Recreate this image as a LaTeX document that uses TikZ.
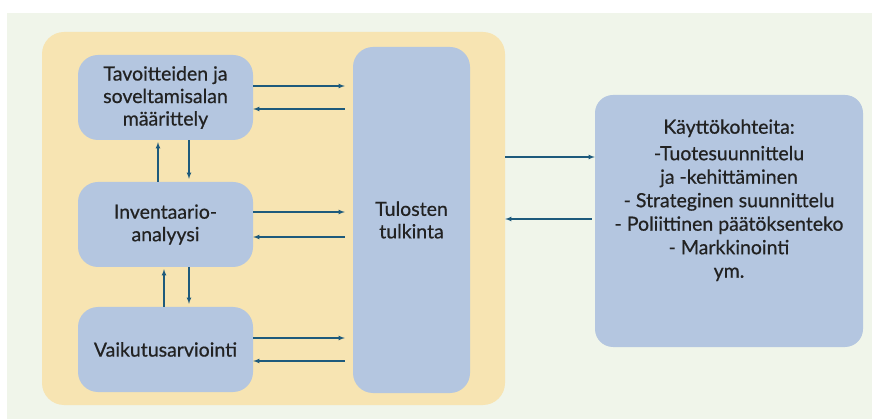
\documentclass[tikz,border=0pt]{standalone}
\usepackage{fontspec}
\setmainfont{Lato}[FakeBold=0.6]
\usepackage{tikz}

\definecolor{taust}{HTML}{F0F5EA}
\definecolor{kehys}{HTML}{F7E4B2}
\definecolor{laatikko}{HTML}{B4C6E0}
\definecolor{nuoli}{HTML}{1E5A7C}
\definecolor{teksti}{HTML}{222222}

\begin{document}
\begin{tikzpicture}[x=1pt,y=-1pt,
  vaihe/.style={rectangle,rounded corners=20pt,fill=laatikko,text=teksti,
    minimum width=175pt,minimum height=85pt,align=center,
    font=\fontsize{19.5}{22.5}\selectfont},
  link/.style={draw=nuoli,line width=1.1pt,-latex}]
\useasboundingbox (0,0) rectangle (872,419);
\fill[taust] (7,13) rectangle (872,419);

\node[rectangle,rounded corners=22pt,fill=kehys,minimum width=463pt,minimum height=373pt] (panel) at (273.5,218.5) {};

\node[vaihe] (tavoite) at (165.5,97.5)  {Tavoitteiden ja\\soveltamisalan\\määrittely};
\node[vaihe] (inventaario) at (165.5,224.5) {Inventaario-\\analyysi};
\node[vaihe] (vaikutus) at (165.5,349.5) {Vaikutusarviointi};
\node[vaihe,minimum width=117pt,minimum height=346pt] (tulkinta) at (411.5,220) {Tulosten\\tulkinta};

\node[vaihe,rounded corners=18pt,minimum width=268pt,minimum height=252pt] (kaytto) at (729,221) {};
\node[anchor=north,align=center,text=teksti,font=\fontsize{19.5}{23.5}\selectfont] (kohteet) at ([yshift=-21pt]kaytto.north)
  {Käyttökohteita:\\[3pt]-Tuotesuunnittelu\\ja -kehittäminen\\- Strateginen suunnittelu\\- Poliittinen päätöksenteko\\- Markkinointi\\ym.};

% vaiheet <-> tulkinta
\foreach \v/\d in {tavoite/11.5,inventaario/12.5,vaikutus/11.5} {
  \draw[link,shorten >=8pt] ([yshift=\d pt]\v.east) -- ([yshift=\d pt]\v.east -| tulkinta.west);
  \draw[link,shorten <=8pt] ([yshift=-\d pt]\v.east -| tulkinta.west) -- ([yshift=-\d pt]\v.east);
}

% vaiheiden valilla
\draw[link,shorten >=2pt] ([xshift=-7.5pt]inventaario.north) -- ([xshift=-7.5pt]tavoite.south);
\draw[link,shorten >=3pt] ([xshift=23.5pt]tavoite.south) -- ([xshift=23.5pt]inventaario.north);
\draw[link,shorten >=2pt] ([xshift=-1.5pt]vaikutus.north) -- ([xshift=-1.5pt]inventaario.south);
\draw[link,shorten >=3pt] ([xshift=23.5pt]inventaario.south) -- ([xshift=23.5pt]vaikutus.north);

% tulkinta <-> kayttokohteet
\draw[link] ([yshift=64pt]kaytto.west -| panel.east) -- ([yshift=64pt]kaytto.west);
\draw[link,shorten <=3pt] ([yshift=2pt]kaytto.west) -- ([yshift=2pt]kaytto.west -| panel.east);
\end{tikzpicture}
\end{document}
